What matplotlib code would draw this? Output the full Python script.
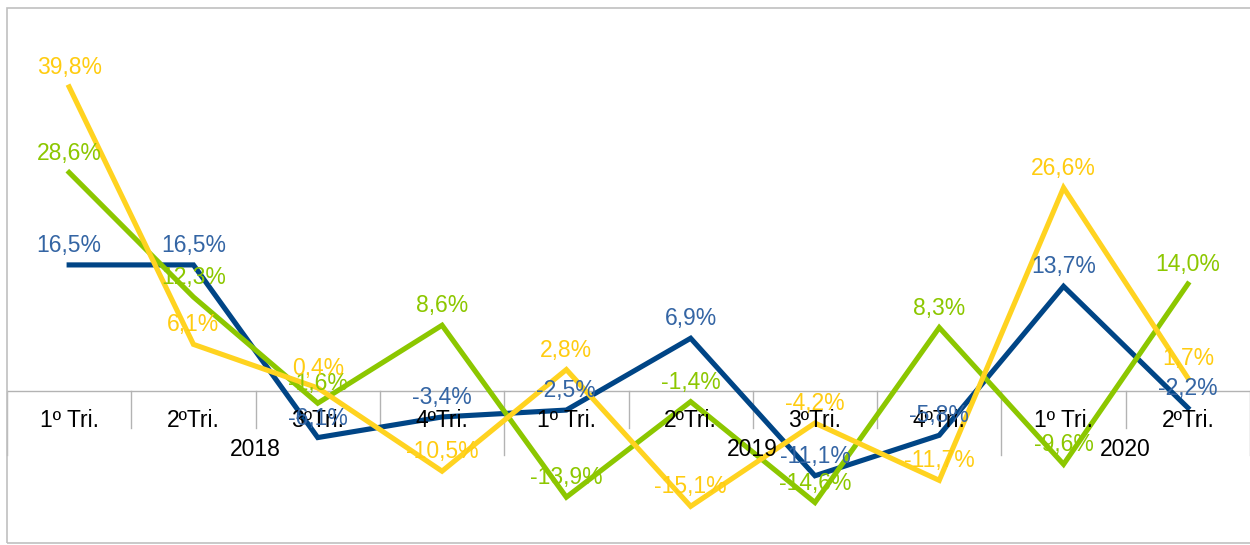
import matplotlib.pyplot as plt
from matplotlib.patches import Rectangle

plt.rcParams['font.family'] = ['Liberation Sans', 'DejaVu Sans']

# Trimestres agrupados por ano
trimestres = ['1º Tri.', '2ºTri.', '3ºTri.', '4ºTri.',
              '1º Tri.', '2ºTri.', '3ºTri.', '4ºTri.',
              '1º Tri.', '2ºTri.']
anos = ['2018', '2019', '2020']
trimestres_por_ano = [4, 4, 2]

# Variação (%) de cada série
serie_azul = [16.5, 16.5, -6.1, -3.4, -2.5, 6.9, -11.1, -5.8, 13.7, -2.2]
serie_verde = [28.6, 12.3, -1.6, 8.6, -13.9, -1.4, -14.6, 8.3, -9.6, 14.0]
serie_amarela = [39.8, 6.1, 0.4, -10.5, 2.8, -15.1, -4.2, -11.7, 26.6, 1.7]

series = [
    (serie_azul, '#004586', '#3465a4'),
    (serie_verde, '#8cc700', '#8cc700'),
    (serie_amarela, '#ffd320', '#ffcc11'),
]

W, H = 1250, 545
fig = plt.figure(figsize=(W / 100, H / 100), dpi=100)
ax = fig.add_axes([7 / W, 2 / H, 1243 / W, 535 / H])

x = list(range(len(trimestres)))
for valores, cor_linha, cor_rotulo in series:
    ax.plot(x, valores, color=cor_linha, lw=3.7, solid_joinstyle='miter', zorder=3)
    for xi, v in zip(x, valores):
        ax.annotate(f'{v:.1f}%'.replace('.', ','), (xi, v), xytext=(0, 14),
                    textcoords='offset points', ha='center', va='center',
                    fontsize=16.5, color=cor_rotulo, zorder=5)

ax.set_xlim(-0.5, len(trimestres) - 0.5)
ax.set_ylim(-19.9, 50.13)
ax.axis('off')

# linha do zero e marcas de separação
ax.axhline(0, color='#b3b3b3', lw=1, zorder=1)
fronteiras = [-0.5]
for n in trimestres_por_ano:
    fronteiras.append(fronteiras[-1] + n)
for i in range(len(trimestres) + 1):
    xb = i - 0.5
    comprimento = 64 if xb in fronteiras else 37
    ax.plot([xb, xb], [0, -comprimento / 7.64], color='#b3b3b3', lw=1, zorder=1,
            clip_on=False)

for xi, t in zip(x, trimestres):
    ax.annotate(t, (xi, 0), xytext=(0, -21.5), textcoords='offset points',
                ha='center', va='center', fontsize=16.5, color='black', zorder=4)

inicio = -0.5
for ano, n in zip(anos, trimestres_por_ano):
    ax.annotate(ano, (inicio + n / 2, 0), xytext=(0, -42), textcoords='offset points',
                ha='center', va='center', fontsize=16.5, color='black', zorder=4)
    inicio += n

# moldura do gráfico
fig.patches.append(Rectangle((7 / W, 2 / H), 1250 / W, 535 / H, transform=fig.transFigure,
                             fill=False, edgecolor='#c0c0c0', lw=1.2))

fig.savefig('out.png', dpi=100, facecolor='white')
